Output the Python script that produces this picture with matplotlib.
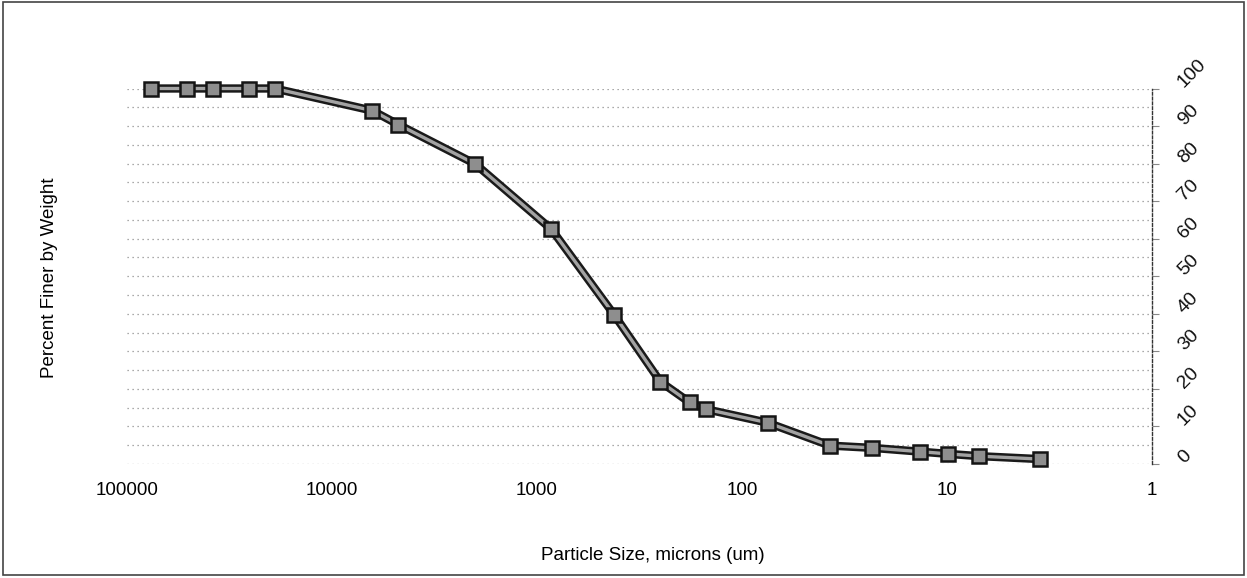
import matplotlib
matplotlib.use("Agg")
import matplotlib.pyplot as plt
from matplotlib.patches import Rectangle

# ---- data ----
particle_size_um = [76200, 50800, 38100, 25400, 19050, 6350, 4750, 2000, 850, 420,
                    250, 180, 150, 75, 37.2, 23.3, 13.6, 9.9, 7.0, 3.5]
percent_finer = [100, 100, 100, 100, 100, 94.1, 90.4, 79.9, 62.5, 39.7,
                 21.9, 16.4, 14.6, 11.0, 4.9, 4.3, 3.3, 2.7, 2.1, 1.3]
x_ticks = [100000, 10000, 1000, 100, 10, 1]
x_tick_labels = ["100000", "10000", "1000", "100", "10", "1"]
y_ticks = [0, 10, 20, 30, 40, 50, 60, 70, 80, 90, 100]
y_grid = [0, 5, 10, 15, 20, 25, 30, 35, 40, 45, 50, 55, 60, 65, 70, 75, 80, 85, 90, 95, 100]
x_label = "Particle Size, microns (um)"
y_label = "Percent Finer by Weight"

plt.rcParams['font.family'] = ['Liberation Sans', 'DejaVu Sans']

W, H = 1247, 578
fig = plt.figure(figsize=(W / 100, H / 100), dpi=100)
fig.patch.set_facecolor('white')

left_px, right_px, top_px, bottom_px = 127, 1152, 88.5, 464
ax = fig.add_axes([left_px / W, (H - bottom_px) / H,
                   (right_px - left_px) / W, (bottom_px - top_px) / H])

ax.set_xscale('log')
ax.set_xlim(100000, 1)
ax.set_ylim(0, 100)

# grid lines every 5%
for g in y_grid:
    ax.axhline(g, color='#8f8f8f', lw=0.9, ls=(0, (1, 3)), zorder=1)

# data line (thick dark with grey core) and square markers
ax.plot(particle_size_um, percent_finer, color='#1a1a1a', lw=6, zorder=3,
        solid_capstyle='butt', solid_joinstyle='miter', clip_on=False)
ax.plot(particle_size_um, percent_finer, color='#a3a3a3', lw=2.4, zorder=4,
        clip_on=False)
ax.plot(particle_size_um, percent_finer, ls='none', marker='s', markersize=10.5,
        markerfacecolor='#8e8e8e', markeredgecolor='#141414', markeredgewidth=1.8,
        zorder=5, clip_on=False)

# spines
for s in ['top', 'left', 'bottom']:
    ax.spines[s].set_visible(False)
ax.spines['right'].set_linestyle((0, (2, 1.5)))
ax.spines['right'].set_color('#333333')
ax.spines['right'].set_linewidth(1.0)

# x ticks
ax.set_xticks(x_ticks)
ax.set_xticklabels(x_tick_labels)
ax.xaxis.set_minor_locator(matplotlib.ticker.NullLocator())
ax.tick_params(axis='x', length=0, pad=13, labelsize=13.5, colors='black')

# y ticks on right, rotated
ax.yaxis.tick_right()
ax.set_yticks(y_ticks)
ax.set_yticklabels([str(v) for v in y_ticks])
ax.tick_params(axis='y', length=5, width=0.8, color='#888888', pad=18,
               labelsize=14, labelcolor='#111111')
for lab in ax.get_yticklabels():
    lab.set_rotation(45)
    lab.set_rotation_mode('anchor')
    lab.set_ha('left')
    lab.set_va('baseline')

# axis titles
fig.text(653 / W, 1 - 555 / H, x_label, ha='center', va='center', fontsize=13.5)
fig.text(50 / W, 1 - 278 / H, y_label, ha='center', va='center', fontsize=13.5,
         rotation=90)

# chart outline
fig.add_artist(Rectangle((3 / W, 3 / H), (W - 6) / W, (H - 5) / H,
                         transform=fig.transFigure, fill=False,
                         edgecolor='#444444', lw=1.2))

fig.savefig('out.png', dpi=100, facecolor='white')
